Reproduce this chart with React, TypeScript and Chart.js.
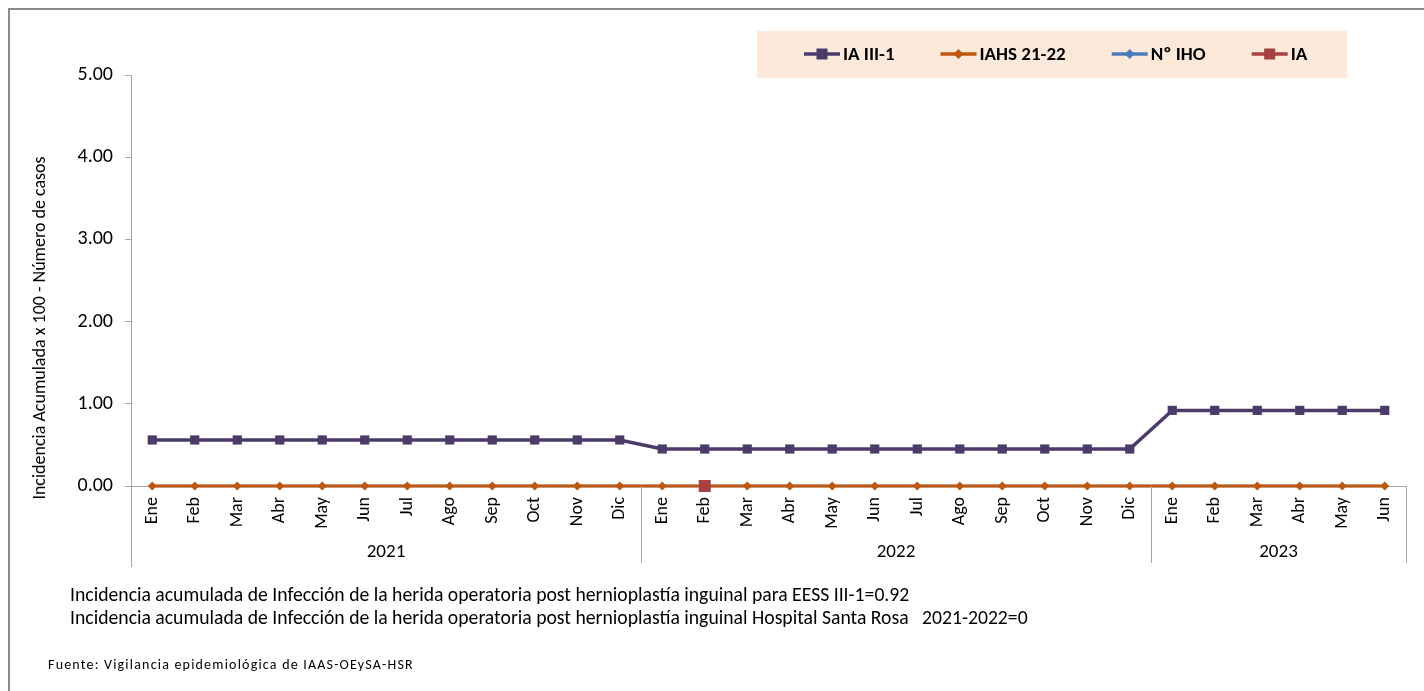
import React, { useEffect, useRef } from "react";
import { Chart, registerables } from "chart.js";

Chart.register(...registerables);

const monthLabels = [
  "Ene", "Feb", "Mar", "Abr", "May", "Jun", "Jul", "Ago", "Sep", "Oct", "Nov", "Dic",
  "Ene", "Feb", "Mar", "Abr", "May", "Jun", "Jul", "Ago", "Sep", "Oct", "Nov", "Dic",
  "Ene", "Feb", "Mar", "Abr", "May", "Jun",
];
const yearLabels = ["2021", "2022", "2023"];
const monthsPerYear = [12, 12, 6];

const iaIII1 = [
  0.56, 0.56, 0.56, 0.56, 0.56, 0.56, 0.56, 0.56, 0.56, 0.56, 0.56, 0.56,
  0.45, 0.45, 0.45, 0.45, 0.45, 0.45, 0.45, 0.45, 0.45, 0.45, 0.45, 0.45,
  0.92, 0.92, 0.92, 0.92, 0.92, 0.92,
];
const iahs2122 = [
  0, 0, 0, 0, 0, 0, 0, 0, 0, 0, 0, 0,
  0, 0, 0, 0, 0, 0, 0, 0, 0, 0, 0, 0,
  0, 0, 0, 0, 0, 0,
];
const nIho = [
  0, 0, 0, 0, 0, 0, 0, 0, 0, 0, 0, 0,
  0, 0, 0, 0, 0, 0, 0, 0, 0, 0, 0, 0,
  0, 0, 0, 0, 0, 0,
];
const ia = [
  null, null, null, null, null, null, null, null, null, null, null, null,
  null, 0, null, null, null, null, null, null, null, null, null, null,
  null, null, null, null, null, null,
];

const yTitle = "Incidencia Acumulada x 100 - Número de casos";
const notes = [
  "Incidencia acumulada de Infección de la herida operatoria post hernioplastía inguinal para EESS III-1=0.92",
  "Incidencia acumulada de Infección de la herida operatoria post hernioplastía inguinal Hospital Santa Rosa   2021-2022=0",
];
const source = "Fuente: Vigilancia epidemiológica de IAAS-OEySA-HSR";

const FONT = "Carlito, Calibri, 'Liberation Sans', Arial, sans-serif";
const AXIS_GRAY = "#A6A6A6";

const legendOrder = [0, 1, 2, 3];

const overlayPlugin = {
  id: "overlay",
  afterDraw(chart: any) {
    const ctx = chart.ctx as CanvasRenderingContext2D;
    const x = chart.scales.x;
    const area = chart.chartArea;
    ctx.save();

    // outer frame
    ctx.strokeStyle = "#8C8C8C";
    ctx.lineWidth = 2;
    ctx.beginPath();
    ctx.moveTo(9, 691);
    ctx.lineTo(9, 9);
    ctx.lineTo(1424, 9);
    ctx.stroke();

    // multi-level category dividers
    const lowY = 567;
    ctx.strokeStyle = AXIS_GRAY;
    ctx.lineWidth = 1;
    let start = 0;
    const bounds: number[] = [x.getPixelForValue(-0.5)];
    monthsPerYear.forEach((n) => {
      start += n;
      bounds.push(x.getPixelForValue(start - 0.5));
    });
    ctx.beginPath();
    bounds.forEach((b, i) => {
      const px = Math.round(b) + 0.5;
      ctx.moveTo(px, area.bottom);
      ctx.lineTo(px, i === 0 ? lowY : lowY - 4);
    });
    ctx.stroke();

    // year labels
    ctx.fillStyle = "#000";
    ctx.font = `19px ${FONT}`;
    ctx.textAlign = "center";
    ctx.textBaseline = "middle";
    yearLabels.forEach((yl, i) => {
      ctx.fillText(yl, (bounds[i] + bounds[i + 1]) / 2, 552);
    });

    // y title
    ctx.save();
    ctx.translate(40, 328);
    ctx.rotate(-Math.PI / 2);
    ctx.font = `18px ${FONT}`;
    ctx.fillText(yTitle, 0, 0);
    ctx.restore();

    // notes
    ctx.textAlign = "left";
    ctx.font = `19.7px ${FONT}`;
    ctx.fillText(notes[0], 70, 596);
    ctx.fillText(notes[1], 70, 619);
    ctx.font = `14px ${FONT}`;
    (ctx as any).letterSpacing = "1.2px";
    ctx.fillText(source, 48, 665);
    (ctx as any).letterSpacing = "0px";

    // legend
    ctx.fillStyle = "#FDE9D9";
    ctx.fillRect(757, 31, 590, 47);
    ctx.font = `bold 19px ${FONT}`;
    let lx = 804;
    const ly = 54;
    legendOrder.forEach((di) => {
      const ds = chart.data.datasets[di];
      ctx.strokeStyle = ds.borderColor;
      ctx.lineWidth = 3.5;
      ctx.beginPath();
      ctx.moveTo(lx, ly);
      ctx.lineTo(lx + 36, ly);
      ctx.stroke();
      const mx = lx + 18;
      ctx.fillStyle = ds.pointBackgroundColor;
      if (ds.pointStyle === "rect") {
        ctx.fillRect(mx - 5.5, ly - 5.5, 11, 11);
      } else {
        ctx.beginPath();
        ctx.moveTo(mx, ly - 5);
        ctx.lineTo(mx + 5, ly);
        ctx.lineTo(mx, ly + 5);
        ctx.lineTo(mx - 5, ly);
        ctx.closePath();
        ctx.fill();
      }
      ctx.fillStyle = "#000";
      ctx.textBaseline = "middle";
      ctx.fillText(ds.label, lx + 39, ly + 1);
      lx += 39 + ctx.measureText(ds.label).width + 46;
    });

    ctx.restore();
  },
};

export default function App() {
  const ref = useRef<HTMLCanvasElement>(null);
  useEffect(() => {
    if (!ref.current) return;
    const chart = new Chart(ref.current, {
      type: "line",
      data: {
        labels: monthLabels,
        datasets: [
          {
            label: "IA III-1",
            data: iaIII1,
            borderColor: "#4B3B6A",
            backgroundColor: "#4B3B6A",
            pointBackgroundColor: "#4B3B6A",
            pointBorderColor: "#4B3B6A",
            pointStyle: "rect",
            pointRadius: 6.5,
            pointBorderWidth: 0,
            borderWidth: 3.5,
            clip: false,
            order: 0,
          },
          {
            label: "IAHS 21-22",
            data: iahs2122,
            borderColor: "#C0570E",
            backgroundColor: "#C0570E",
            pointBackgroundColor: "#C0570E",
            pointBorderColor: "#C0570E",
            pointStyle: "rectRot",
            pointRadius: 4.5,
            pointBorderWidth: 0,
            borderWidth: 3,
            clip: false,
            order: 2,
          },
          {
            label: "Nº IHO",
            data: nIho,
            borderColor: "#4A7EBB",
            backgroundColor: "#4A7EBB",
            pointBackgroundColor: "#4A7EBB",
            pointBorderColor: "#4A7EBB",
            pointStyle: "rectRot",
            pointRadius: 3.5,
            pointBorderWidth: 0,
            borderWidth: 2.5,
            clip: false,
            order: 3,
          },
          {
            label: "IA",
            data: ia,
            borderColor: "#A6413F",
            backgroundColor: "#A6413F",
            pointBackgroundColor: "#A6413F",
            pointBorderColor: "#A6413F",
            pointStyle: "rect",
            pointRadius: 8.5,
            pointBorderWidth: 0,
            borderWidth: 3,
            clip: false,
            order: 1,
          },
        ],
      },
      options: {
        responsive: false,
        animation: false,
        layout: { padding: { left: 0, right: 18, top: 75, bottom: 0 } },
        plugins: { legend: { display: false }, tooltip: { enabled: false } },
        scales: {
          x: {
            type: "category",
            offset: true,
            grid: { display: false, drawTicks: false },
            border: { display: true, color: AXIS_GRAY, width: 1 },
            ticks: {
              autoSkip: false,
              minRotation: 90,
              maxRotation: 90,
              padding: 11,
              color: "#000",
              font: { family: FONT, size: 18 },
            },
            afterFit: (s: any) => {
              s.height = 205;
            },
          },
          y: {
            min: 0,
            max: 5,
            grid: {
              drawOnChartArea: false,
              drawTicks: true,
              tickLength: 6,
              color: AXIS_GRAY,
            },
            border: { display: true, color: AXIS_GRAY, width: 1 },
            ticks: {
              stepSize: 1,
              padding: 12,
              color: "#000",
              font: { family: FONT, size: 20 },
              callback: (v: any) => Number(v).toFixed(2),
            },
            afterFit: (s: any) => {
              s.width = 131;
            },
          },
        },
      },
      plugins: [overlayPlugin],
    });
    return () => chart.destroy();
  }, []);

  return (
    <div style={{ position: "fixed", left: 0, top: 0, width: 1424, height: 691, background: "#fff" }}>
      <canvas ref={ref} width={1424} height={691} style={{ width: 1424, height: 691, display: "block" }} />
    </div>
  );
}
